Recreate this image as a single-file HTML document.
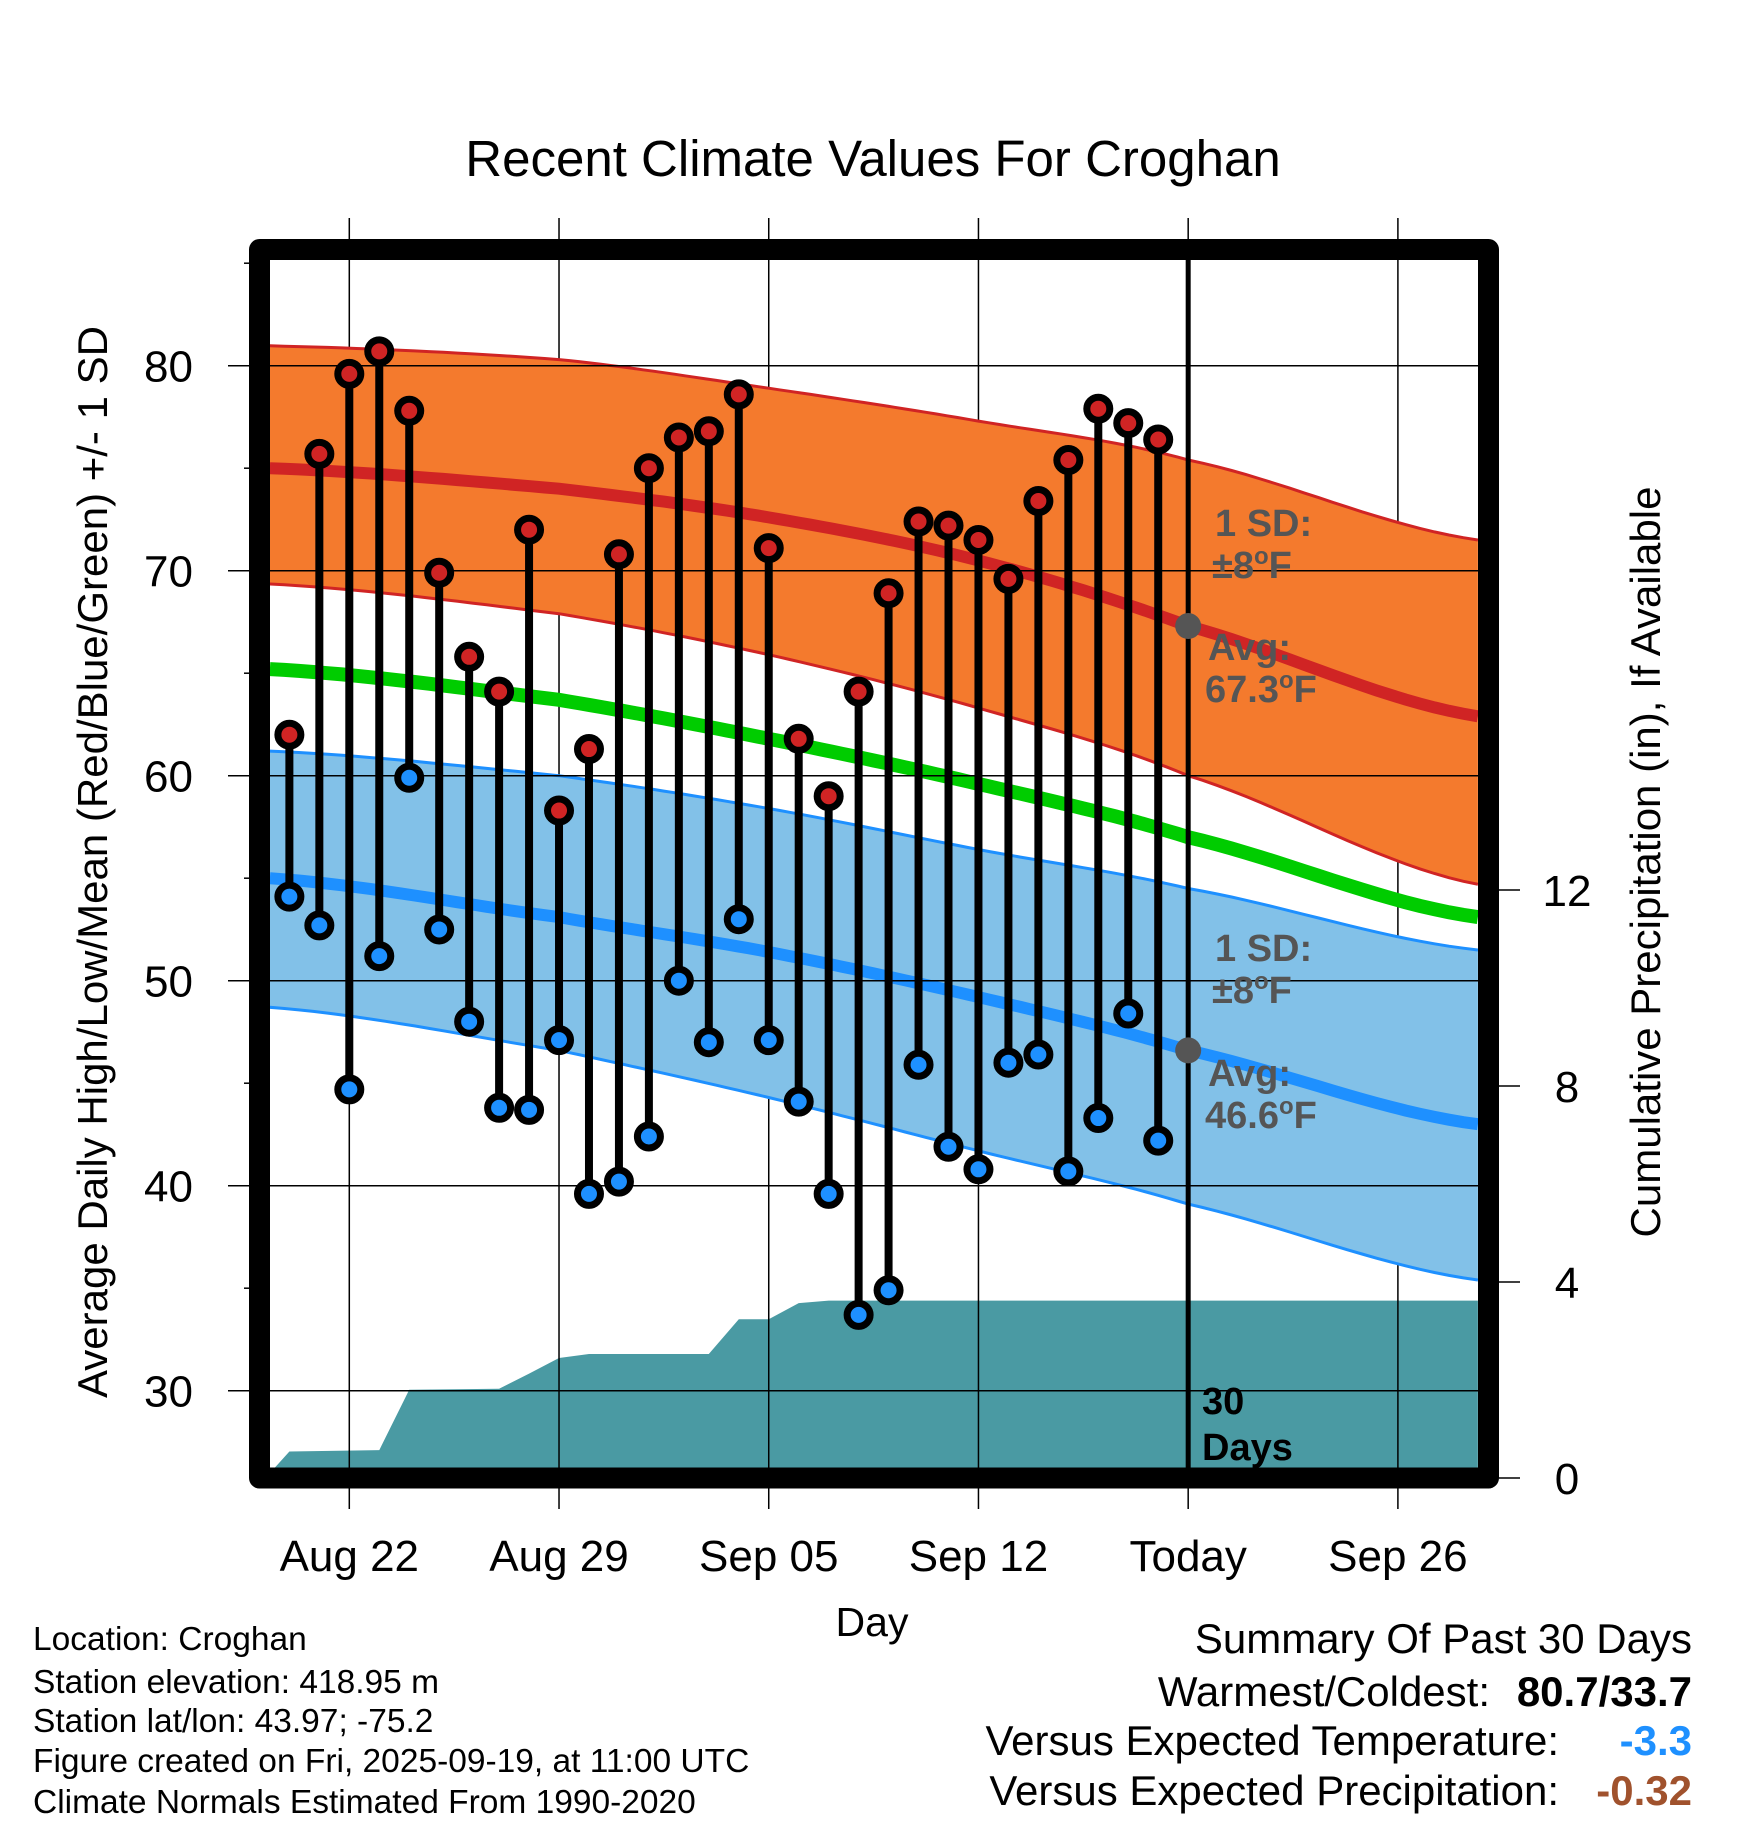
<!DOCTYPE html>
<html><head><meta charset="utf-8"><style>
html,body{margin:0;padding:0;background:#fff;}
svg{display:block;font-family:"Liberation Sans",Arial,sans-serif;}
</style></head><body>
<svg id="chart" width="1748" height="1828" viewBox="0 0 1748 1828" xmlns="http://www.w3.org/2000/svg">
<defs><clipPath id="plotclip"><rect x="270" y="260" width="1208" height="1208"/></clipPath></defs>
<rect width="1748" height="1828" fill="#fff"/>
<text x="873" y="176" font-size="51" text-anchor="middle">Recent Climate Values For Croghan</text>
<g id="precipLayer" clip-path="url(#plotclip)"></g>
<g id="vgrid"></g>
<g id="bands" clip-path="url(#plotclip)"></g>
<g id="hgrid"></g>
<g id="stems"></g>
<g id="frame"></g>
<g id="labels"></g>
<text transform="translate(107,862) rotate(-90)" font-size="42" text-anchor="middle">Average Daily High/Low/Mean (Red/Blue/Green) +/- 1 SD</text>
<text transform="translate(1660,862) rotate(-90)" font-size="42" text-anchor="middle">Cumulative Precipitation (in), If Available</text>
<text x="872" y="1636" font-size="41" text-anchor="middle">Day</text>
<g font-size="33.5">
<text x="33" y="1650">Location: Croghan</text>
<text x="33" y="1693">Station elevation: 418.95 m</text>
<text x="33" y="1732">Station lat/lon: 43.97; -75.2</text>
<text x="33" y="1772">Figure created on Fri, 2025-09-19, at 11:00 UTC</text>
<text x="33" y="1813">Climate Normals Estimated From 1990-2020</text>
</g>
<g font-size="42">
<text x="1692" y="1653" text-anchor="end">Summary Of Past 30 Days</text>
<text x="1490" y="1706" text-anchor="end">Warmest/Coldest:</text>
<text x="1692" y="1706" text-anchor="end" font-weight="bold">80.7/33.7</text>
<text x="1559" y="1755" text-anchor="end">Versus Expected Temperature:</text>
<text x="1692" y="1755" text-anchor="end" font-weight="bold" fill="#1e90ff">-3.3</text>
<text x="1559" y="1805" text-anchor="end">Versus Expected Precipitation:</text>
<text x="1692" y="1805" text-anchor="end" font-weight="bold" fill="#a0522d">-0.32</text>
</g>
</svg>
<script>
const highs=[62,75.7,79.6,80.7,77.8,69.9,65.8,64.1,72,58.3,61.3,70.8,75,76.5,76.8,78.6,71.1,61.8,59,64.1,68.9,72.4,72.2,71.5,69.6,73.4,75.4,77.9,77.2,76.4];
const lows=[54.1,52.7,44.7,51.2,59.9,52.5,48,43.8,43.7,47.1,39.6,40.2,42.4,50,47,53,47.1,44.1,39.6,33.7,34.9,45.9,41.9,40.8,46,46.4,40.7,43.3,48.4,42.2];
const firstDay=-2;
const normDays=[-2.65,7,14,21,28,37.67];
const redUpper=[80.97,80.3,78.9,77.3,75.4,71.5];
const redMean=[75.0,74.0,72.6,70.5,67.3,62.9];
const redLower=[69.35,67.9,65.9,63.3,60.0,54.7];
const greenMean=[65.2,63.7,61.8,59.6,57.0,53.1];
const blueUpper=[61.2,60.0,58.4,56.4,54.5,51.5];
const blueMean=[55.0,53.1,51.4,49.2,46.6,43.0];
const blueLower=[48.7,46.6,44.3,41.7,39.1,35.4];
const precipDays=[-2.65,-2,1,2,5,6,7,8,12,13,14,15,16,37.67];
const precipVals=[0.1,0.54,0.57,1.8,1.82,2.13,2.45,2.53,2.53,3.24,3.24,3.57,3.62,3.62];
const xTickDays=[0,7,14,21,28,35];
const xTickLabels=["Aug 22","Aug 29","Sep 05","Sep 12","Today","Sep 26"];
const yTicks=[30,40,50,60,70,80];
const pTicks=[0,4,8,12];
const todayDay=28;
const todayRedAvg=67.3, todayBlueAvg=46.6;

const NS="http://www.w3.org/2000/svg";
const X=d=>349.3+d*29.96;
const Y=t=>365.7+(80-t)*20.5;
const P=p=>1478-p*49;
function mk(tag,attrs,parent){const e=document.createElementNS(NS,tag);for(const k in attrs)e.setAttribute(k,attrs[k]);parent.appendChild(e);return e;}
// smooth curve through nodes (Catmull-Rom sampled)
function curve(days,vals){
 const out=[];const n=days.length;
 for(let i=0;i<n-1;i++){
  const p0=i>0?i-1:i,p3=i+2<n?i+2:i+1;
  for(let s=0;s<20;s++){
   const t=s/20;
   const cr=(a,b,c,d)=>0.5*((2*b)+(-a+c)*t+(2*a-5*b+4*c-d)*t*t+(-a+3*b-3*c+d)*t*t*t);
   const dd=days[i]+(days[i+1]-days[i])*t;
   const v=cr(vals[p0],vals[i],vals[i+1],vals[p3]);
   out.push(X(dd).toFixed(1)+","+Y(v).toFixed(1));
  }
 }
 out.push(X(days[n-1]).toFixed(1)+","+Y(vals[n-1]).toFixed(1));
 return out;
}
const g=id=>document.getElementById(id);

// precip
{
 const pts=[X(precipDays[0])+","+P(0)].concat(precipDays.map((d,i)=>X(d).toFixed(1)+","+P(precipVals[i]).toFixed(1))).concat([X(precipDays[precipDays.length-1])+","+P(0)]);
 const e=mk('polygon',{points:pts.join(' '),fill:'#4a9aa3'},g('precipLayer'));
 
 
}
xTickDays.forEach((d,i)=>{
 const e=mk('line',{x1:X(d),x2:X(d),y1:218,y2:1509,stroke:'#000','stroke-width':1.5},g('vgrid'));
 
 
 const t=mk('text',{x:X(d),y:1571,'font-size':44,'text-anchor':'middle'},g('labels'));
 t.textContent=xTickLabels[i];
 
 
});
function band(up,lo,fill,edge,name){
 const pts=curve(normDays,up).concat(curve(normDays,lo).reverse());
 const e=mk('polygon',{points:pts.join(' '),fill:fill},g('bands'));
 
 
 [up,lo].forEach(a=>{const l=mk('polyline',{points:curve(normDays,a).join(' '),fill:'none',stroke:edge,'stroke-width':3},g('bands'));
 
 });
}
function meanLine(vals,col,w,name){
 const l=mk('polyline',{points:curve(normDays,vals).join(' '),fill:'none',stroke:col,'stroke-width':w},g('bands'));
 
 
}
band(redUpper,redLower,'#f47a2d','#d02424','high-sd-band');
band(blueUpper,blueLower,'#82c1e8','#1e90ff','low-sd-band');
meanLine(redMean,'#d02424',12,'high-normal-line');
meanLine(blueMean,'#1e90ff',12,'low-normal-line');
meanLine(greenMean,'#00cc00',14,'mean-normal-line');
yTicks.forEach(t=>{
 const e=mk('line',{x1:228,x2:1478,y1:Y(t),y2:Y(t),stroke:'#000','stroke-width':1.5},g('hgrid'));
 
 
 const m=mk('line',{x1:244,x2:250,y1:Y(t+5),y2:Y(t+5),stroke:'#000','stroke-width':1.5},g('hgrid'));
 
 
 const tx=mk('text',{x:193,y:Y(t)+16,'font-size':44,'text-anchor':'end'},g('labels'));
 tx.textContent=t;
 
 
});
pTicks.forEach(p=>{
 const e=mk('line',{x1:1499,x2:1520,y1:P(p),y2:P(p),stroke:'#000','stroke-width':1.5},g('hgrid'));
 
 
 const tx=mk('text',{x:1567,y:P(p)+16,'font-size':44,'text-anchor':'middle'},g('labels'));
 tx.textContent=p;
 
 
});
{
 const e=mk('line',{x1:X(todayDay),x2:X(todayDay),y1:255,y2:1475,stroke:'#000','stroke-width':5},g('stems'));
 
 
}
highs.forEach((h,i)=>{
 const x=X(firstDay+i);
 const s=mk('line',{x1:x,x2:x,y1:Y(h),y2:Y(lows[i]),stroke:'#000','stroke-width':8},g('stems'));
 
 
});
highs.forEach((h,i)=>{
 const x=X(firstDay+i);
 const c1=mk('circle',{cx:x,cy:Y(h),r:11.5,fill:'#d02424',stroke:'#000','stroke-width':7},g('stems'));
 
 
 const c2=mk('circle',{cx:x,cy:Y(lows[i]),r:11.5,fill:'#1e90ff',stroke:'#000','stroke-width':7},g('stems'));
 
 
});
[[todayRedAvg,'today-high-avg-dot'],[todayBlueAvg,'today-low-avg-dot']].forEach(([v,n])=>{
 const c=mk('circle',{cx:X(todayDay),cy:Y(v),r:13,fill:'#555'},g('stems'));
 
 
});
function ann(txt,x,y,col,name){
 const t=mk('text',{x:x,y:y,'font-size':38,'font-weight':'bold',fill:col},g('labels'));
 t.innerHTML=txt;
 
 
}
ann('1 SD:',1215,536,'#555','high-sd-label');
ann('±8<tspan font-size="24" dy="-14">o</tspan><tspan dy="14">F</tspan>',1212,578,'#555','high-sd-value');
ann('Avg:',1208,660,'#555','high-avg-label');
ann('67.3<tspan font-size="24" dy="-14">o</tspan><tspan dy="14">F</tspan>',1205,702,'#555','high-avg-value');
ann('1 SD:',1215,961,'#555','low-sd-label');
ann('±8<tspan font-size="24" dy="-14">o</tspan><tspan dy="14">F</tspan>',1212,1003,'#555','low-sd-value');
ann('Avg:',1208,1086,'#555','low-avg-label');
ann('46.6<tspan font-size="24" dy="-14">o</tspan><tspan dy="14">F</tspan>',1205,1128,'#555','low-avg-value');
ann('30',1202,1414,'#000','days-count-label');
ann('Days',1202,1460,'#000','days-word-label');
{
 const r=mk('rect',{x:259.5,y:249.5,width:1229,height:1228.5,fill:'none',stroke:'#000','stroke-width':21,'stroke-linejoin':'round'},g('frame'));
 
 
}
</script>
</body></html>
